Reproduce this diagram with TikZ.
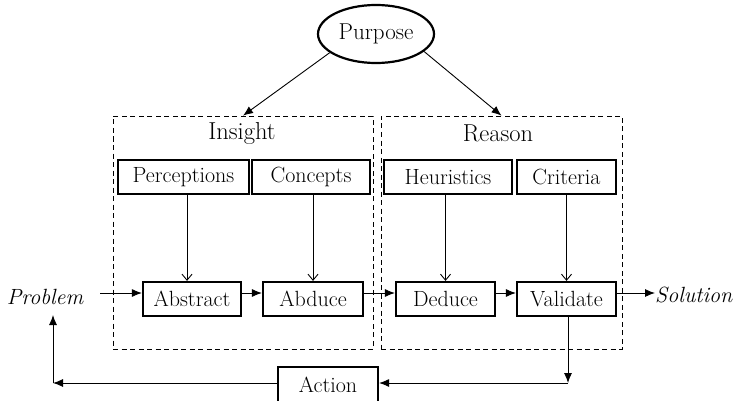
\documentclass[tikz,border=0pt]{standalone}
\usepackage{fontspec}
\usetikzlibrary{arrows.meta,shapes.geometric}
\begin{document}
\begin{tikzpicture}[x=1pt,y=-1pt,
  every node/.style={font=\fontsize{22}{26}\selectfont, inner sep=0pt},
  grouptitle/.style={font=\fontsize{24.5}{28}\selectfont},
  stepbox/.style={draw, line width=2.2pt, minimum height=34pt},
  groupbox/.style={draw, dash pattern=on 5pt off 3.5pt, line width=0.7pt},
  flow/.style={line width=0.9pt, -{Latex[length=10pt,width=8pt]}},
  feed/.style={line width=0.9pt, -{Straight Barb[length=6pt,width=10pt]}},
]
\useasboundingbox (0,0) rectangle (738,401);

% the two dashed groups
\node[groupbox, minimum width=260pt, minimum height=233pt] (insight) at (243,232.5) {};
\node[groupbox, minimum width=241pt, minimum height=233pt] (reason) at (501.5,232.5) {};
\node[grouptitle] (insightlabel) at (242,133) {Insight};
\node[grouptitle] (reasonlabel) at (498,133) {Reason};

% goal
\node[draw, ellipse, line width=2.2pt, minimum width=116pt, minimum height=58pt, font=\fontsize{23}{27}\selectfont] (purpose) at (376,34) {Purpose};

% inputs of each step
\node[stepbox, minimum width=131pt] (perceptions) at (183.5,177) {Perceptions};
\node[stepbox, minimum width=118pt] (concepts) at (311,177) {Concepts};
\node[stepbox, minimum width=128pt] (heuristics) at (448,177) {Heuristics};
\node[stepbox, minimum width=99pt] (criteria) at (566.5,177) {Criteria};

% steps
\node[stepbox, minimum width=98pt] (abstract) at (192,299) {Abstract};
\node[stepbox, minimum width=100pt] (abduce) at (313,299) {Abduce};
\node[stepbox, minimum width=99pt] (deduce) at (445.5,299) {Deduce};
\node[stepbox, minimum width=99pt] (validate) at (566.5,299) {Validate};
\node[stepbox, minimum width=100pt, minimum height=36pt] (action) at (328,385) {Action};

% ends of the chain
\node[font=\fontsize{22}{26}\selectfont\itshape] (problem) at (45,297) {Problem};
\node[font=\fontsize{22}{26}\selectfont\itshape, anchor=west] (solution) at (655,295) {Solution};

% helper points
\coordinate (pin) at (100,293);
\coordinate (pa) at (187,0);
\coordinate (cr) at (568,383);
\coordinate (cl) at (53,383);
\coordinate (up) at (53,315);

% purpose feeds both groups
\draw[flow] (purpose.202) -- (insight.north);
\draw[flow] (purpose.340) -- (reason.north);

% main chain
\draw[flow] (pin) -- (abstract.west |- pin);
\draw[flow] (abstract.east |- pin) -- (abduce.west |- pin);
\draw[flow] (abduce.east |- pin) -- (deduce.west |- pin);
\draw[flow] (deduce.east |- pin) -- (validate.west |- pin);
\draw[flow] (validate.east |- pin) -- (solution.west |- pin);

% inputs into steps
\draw[feed] (perceptions.south -| pa) -- (abstract.north -| pa);
\draw[feed] (concepts.south -| abduce) -- (abduce.north);
\draw[feed] (heuristics.south -| deduce) -- (deduce.north);
\draw[feed] (criteria.south) -- (validate.north);

% feedback loop
\draw[flow] (validate.south -| cr) -- (cr);
\draw[flow] (cr) -- (action.east |- cr);
\draw[flow] (action.west |- cl) -- (cl);
\draw[flow] (cl) -- (up);
\end{tikzpicture}
\end{document}
